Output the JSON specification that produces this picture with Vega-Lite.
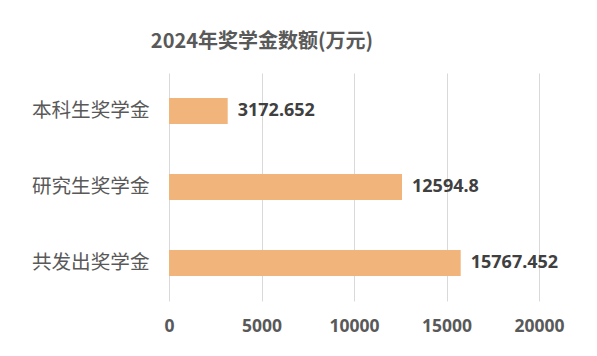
{
  "$schema": "https://vega.github.io/schema/vega-lite/v6.json",
  "autosize": "none",
  "width": 370,
  "height": 228,
  "padding": {"left": 169, "top": 73, "right": 58, "bottom": 55},
  "background": "white",
  "title": {
    "text": "2024年奖学金数额(万元)",
    "font": "Noto Sans CJK SC",
    "fontSize": 20,
    "fontWeight": "bold",
    "color": "#595959",
    "anchor": "middle",
    "dx": -92,
    "offset": 21
  },
  "data": {
    "values": [
      {"category": "本科生奖学金", "value": 3172.652, "label": "3172.652"},
      {"category": "研究生奖学金", "value": 12594.8, "label": "12594.8"},
      {"category": "共发出奖学金", "value": 15767.452, "label": "15767.452"}
    ]
  },
  "encoding": {
    "y": {
      "field": "category",
      "type": "nominal",
      "sort": null,
      "scale": {"paddingInner": 0.66, "paddingOuter": 0.33},
      "axis": {
        "title": null,
        "domain": false,
        "ticks": false,
        "labelPadding": 20,
        "labelFont": "Noto Sans CJK SC",
        "labelFontSize": 19.6,
        "labelColor": "#595959",
        "grid": false
      }
    },
    "x": {
      "field": "value",
      "type": "quantitative",
      "scale": {"domain": [0, 20000], "nice": false},
      "axis": {
        "title": null,
        "values": [0, 5000, 10000, 15000, 20000],
        "format": "d",
        "domain": false,
        "ticks": false,
        "labelFlush": false,
        "labelOverlap": false,
        "labelPadding": 16,
        "labelFont": "Noto Sans",
        "labelFontSize": 17.5,
        "labelFontWeight": "bold",
        "labelColor": "#595959",
        "grid": true,
        "gridColor": "#D9D9D9",
        "gridWidth": 1
      }
    }
  },
  "layer": [
    {"mark": {"type": "bar", "color": "#F1B47B"}},
    {
      "mark": {
        "type": "text",
        "align": "left",
        "baseline": "middle",
        "dx": 10,
        "font": "Noto Sans",
        "fontSize": 18,
        "fontWeight": "bold",
        "color": "#404040"
      },
      "encoding": {"text": {"field": "label", "type": "nominal"}}
    }
  ],
  "config": {"view": {"stroke": null}}
}
